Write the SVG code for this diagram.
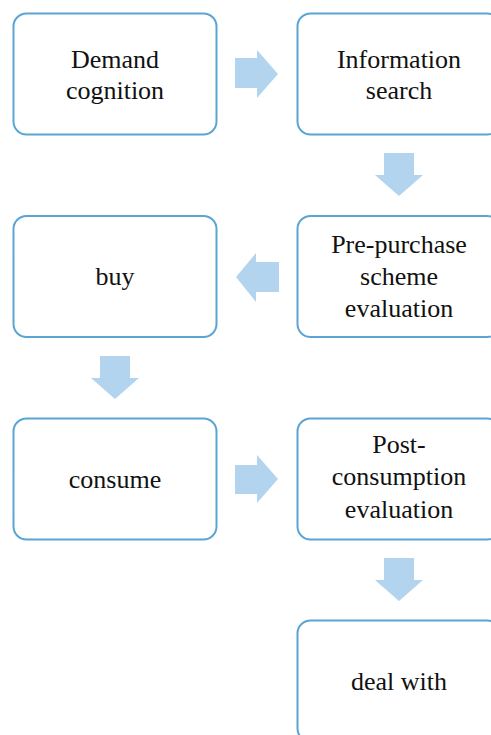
<svg xmlns="http://www.w3.org/2000/svg" width="491" height="735" viewBox="0 0 491 735">
<style>
.box{fill:#fff;stroke:#5aa5d4;stroke-width:2}
.arr{fill:#b3d4ee}
.t{font-size:26px;fill:#111;text-anchor:middle}
</style>
<rect width="491" height="735" fill="#fff"/>
<g id="connectors">
<path class="arr" d="M235,58 H257 V50 L278,74 L257,98 V88 H235 Z"/>
<path class="arr" d="M384,153 H414 V175 H423 L399,196 L375,175 H384 Z"/>
<path class="arr" d="M279,262 V292 H256 V302 L236,277 L256,253 V262 Z"/>
<path class="arr" d="M100,356 H130 V378 H139 L115,399 L91,378 H100 Z"/>
<path class="arr" d="M235,465 H257 V455 L278,479 L257,503 V494 H235 Z"/>
<path class="arr" d="M384,558 H414 V580 H423 L399,601 L375,580 H384 Z"/>
</g>
<g class="t" font-family="Liberation Serif, DejaVu Serif, serif">
<g id="n1"><rect class="box" x="13.5" y="13.5" width="203" height="121" rx="13"/><text x="115" y="67.5">Demand</text><text x="115" y="99">cognition</text></g>
<g id="n2"><rect class="box" x="297.5" y="13.5" width="203" height="121" rx="13"/><text x="399" y="67.5">Information</text><text x="399" y="99">search</text></g>
<g id="n3"><rect class="box" x="297.5" y="216" width="203" height="121" rx="13"/><text x="399" y="253">Pre-purchase</text><text x="399" y="285">scheme</text><text x="399" y="317">evaluation</text></g>
<g id="n4"><rect class="box" x="13.5" y="216" width="203" height="121" rx="13"/><text x="115" y="284.5">buy</text></g>
<g id="n5"><rect class="box" x="13.5" y="418.5" width="203" height="121" rx="13"/><text x="115" y="488">consume</text></g>
<g id="n6"><rect class="box" x="297.5" y="418.5" width="203" height="121" rx="13"/><text x="399" y="453">Post-</text><text x="399" y="485">consumption</text><text x="399" y="518">evaluation</text></g>
<g id="n7"><rect class="box" x="297.5" y="620.5" width="203" height="121" rx="13"/><text x="399" y="690">deal with</text></g>
</g>
</svg>
